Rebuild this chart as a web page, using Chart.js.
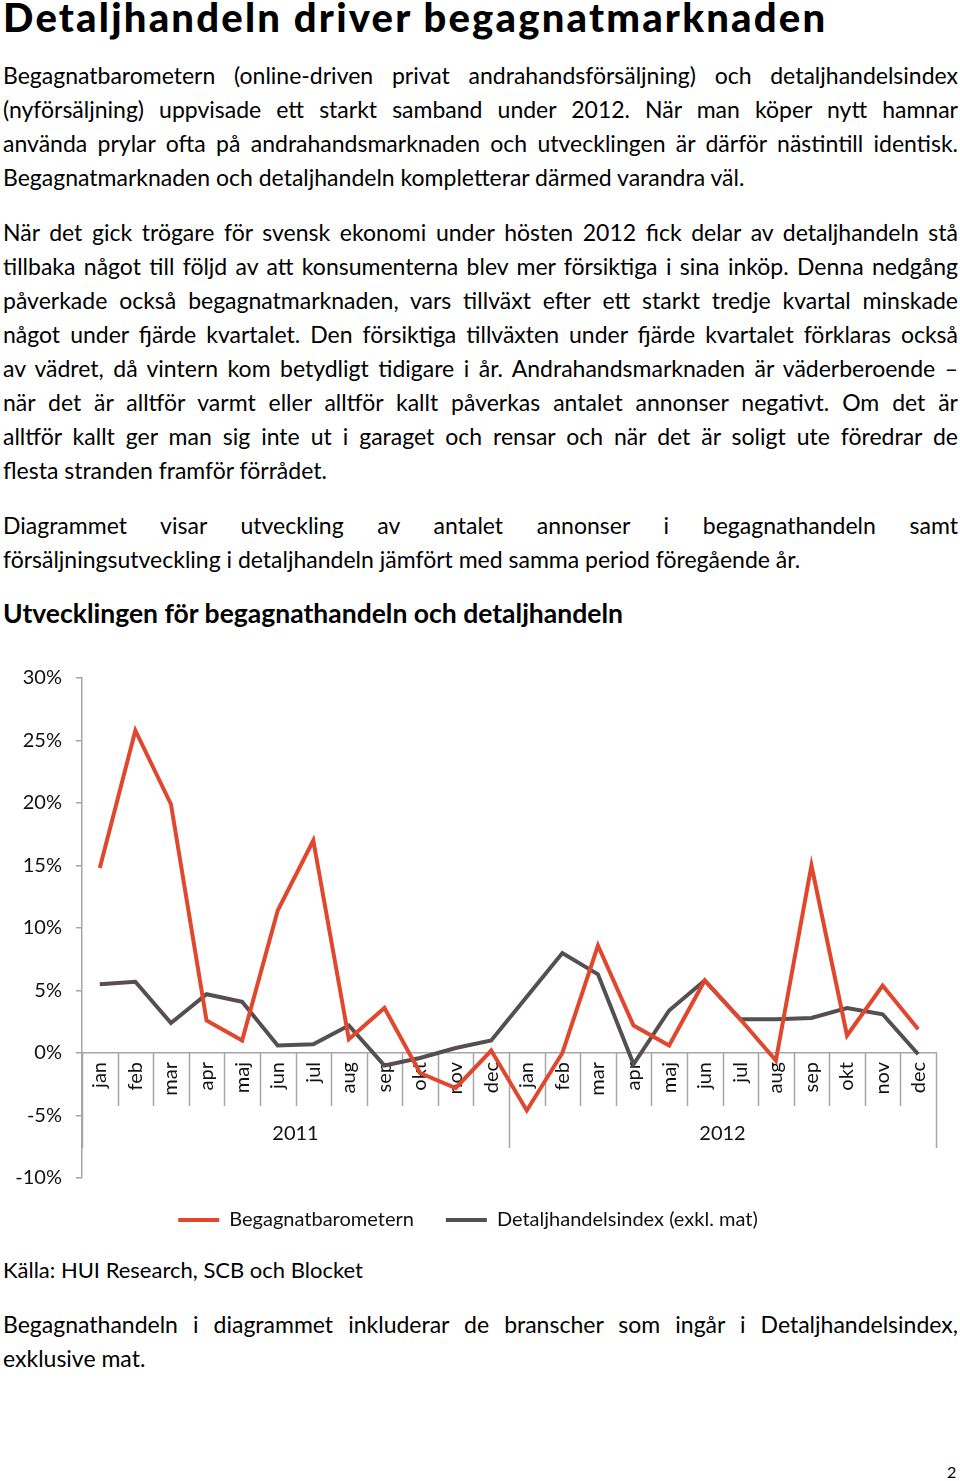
<!DOCTYPE html>
<html>
<head>
<meta charset="utf-8">
<script src="https://cdn.jsdelivr.net/npm/chart.js@4.4.1/dist/chart.umd.min.js"></script>
<style>
  body { margin: 0; background: #fff; font-family: Lato, "Open Sans", sans-serif; color: #000; }
  #page { position: relative; width: 960px; height: 1481px; overflow: hidden; }
  h1 { position: absolute; left: 3px; top: -3px; margin: 0; font-size: 40px; line-height: 40px; font-weight: 900; letter-spacing: 2.2px; white-space: nowrap; }
  .p { position: absolute; left: 3px; width: 955px; font-size: 23px; line-height: 34px; }
  .p div { text-align: justify; text-align-last: justify; }
  .p div.last { text-align-last: left; }
  h2 { position: absolute; left: 3px; top: 596px; margin: 0; font-size: 26.5px; line-height: 34px; font-weight: 700; white-space: nowrap; }
  #chartBox { position: absolute; left: 0; top: 652px; width: 960px; height: 590px; }
  #source { position: absolute; left: 3px; top: 1253px; font-size: 22px; line-height: 34px; }
  #pageNo { position: absolute; left: 947px; top: 1462px; font-size: 16px; line-height: 20px; }
</style>
</head>
<body>
<div id="page">
  <h1>Detaljhandeln driver begagnatmarknaden</h1>

  <div class="p" style="top:58px">
    <div>Begagnatbarometern (online-driven privat andrahandsförsäljning) och detaljhandelsindex</div>
    <div>(nyförsäljning) uppvisade ett starkt samband under 2012. När man köper nytt hamnar</div>
    <div>använda prylar ofta på andrahandsmarknaden och utvecklingen är därför nästintill identisk.</div>
    <div class="last">Begagnatmarknaden och detaljhandeln kompletterar därmed varandra väl.</div>
  </div>

  <div class="p" style="top:215px">
    <div>När det gick trögare för svensk ekonomi under hösten 2012 fick delar av detaljhandeln stå</div>
    <div>tillbaka något till följd av att konsumenterna blev mer försiktiga i sina inköp. Denna nedgång</div>
    <div>påverkade också begagnatmarknaden, vars tillväxt efter ett starkt tredje kvartal minskade</div>
    <div>något under fjärde kvartalet. Den försiktiga tillväxten under fjärde kvartalet förklaras också</div>
    <div>av vädret, då vintern kom betydligt tidigare i år. Andrahandsmarknaden är väderberoende –</div>
    <div>när det är alltför varmt eller alltför kallt påverkas antalet annonser negativt. Om det är</div>
    <div>alltför kallt ger man sig inte ut i garaget och rensar och när det är soligt ute föredrar de</div>
    <div class="last">flesta stranden framför förrådet.</div>
  </div>

  <div class="p" style="top:508px">
    <div>Diagrammet visar utveckling av antalet annonser i begagnathandeln samt</div>
    <div class="last">försäljningsutveckling i detaljhandeln jämfört med samma period föregående år.</div>
  </div>

  <h2>Utvecklingen för begagnathandeln och detaljhandeln</h2>

  <div id="chartBox"><canvas id="myChart"></canvas></div>

  <div id="source">Källa: HUI Research, SCB och Blocket</div>

  <div class="p" style="top:1307px">
    <div>Begagnathandeln i diagrammet inkluderar de branscher som ingår i Detaljhandelsindex,</div>
    <div class="last">exklusive mat.</div>
  </div>

  <div id="pageNo">2</div>
</div>

<script>
// data
const monthLabels = ['jan', 'feb', 'mar', 'apr', 'maj', 'jun', 'jul', 'aug', 'sep', 'okt', 'nov', 'dec',
                     'jan', 'feb', 'mar', 'apr', 'maj', 'jun', 'jul', 'aug', 'sep', 'okt', 'nov', 'dec'];
const yearLabels = ['2011', '2012'];
const begagnatbarometern = [14.8, 25.8, 19.9, 2.6, 1.0, 11.4, 17.0, 1.1, 3.6, -1.6, -2.8, 0.2,
                            -4.6, 0.0, 8.6, 2.2, 0.6, 5.8, 2.7, -0.6, 15.0, 1.4, 5.4, 1.9];
const detaljhandelsindex = [5.5, 5.7, 2.4, 4.7, 4.1, 0.6, 0.7, 2.2, -1.0, -0.4, 0.4, 1.0,
                            4.5, 8.0, 6.3, -0.9, 3.4, 5.8, 2.7, 2.7, 2.8, 3.6, 3.1, -0.1];
const yMin = -10, yMax = 30, yStep = 5;

const axisGrey = '#a6a6a6';
const redColor = '#e0472c';
const greyColor = '#574e50';

Chart.defaults.font.family = 'Lato, "Open Sans", sans-serif';
Chart.defaults.color = '#111';

// separators under the month labels, longer ones between the years, plus year labels
const yearDividers = {
  id: 'yearDividers',
  beforeDatasetsDraw(chart) {
    const x = chart.scales.x;
    const y = chart.scales.y;
    const ctx = chart.ctx;
    const y0 = y.getPixelForValue(0);
    const perYear = monthLabels.length / yearLabels.length;
    const edge = i => {
      if (i === 0) return x.left;
      if (i === monthLabels.length) return x.right;
      return (x.getPixelForValue(i - 1) + x.getPixelForValue(i)) / 2;
    };
    ctx.save();
    ctx.strokeStyle = axisGrey;
    ctx.lineWidth = 1.5;
    for (let i = 0; i <= monthLabels.length; i++) {
      const px = Math.round(edge(i)) + 0.5;
      const len = i % perYear === 0 ? 95 : 53;
      ctx.beginPath();
      ctx.moveTo(px, y0);
      ctx.lineTo(px, y0 + len);
      ctx.stroke();
    }
    ctx.fillStyle = '#111';
    ctx.font = '20px Lato, "Open Sans", sans-serif';
    ctx.textAlign = 'center';
    ctx.textBaseline = 'middle';
    yearLabels.forEach((lbl, k) => {
      const cx = (edge(k * perYear) + edge((k + 1) * perYear)) / 2;
      ctx.fillText(lbl, cx, y0 + 81);
    });
    ctx.restore();
  }
};

const ctx = document.getElementById('myChart').getContext('2d');
const chart = new Chart(ctx, {
  type: 'line',
  data: {
    labels: monthLabels,
    datasets: [
      {
        label: 'Begagnatbarometern',
        data: begagnatbarometern,
        borderColor: redColor,
        backgroundColor: redColor,
        borderWidth: 4,
        pointRadius: 0,
        tension: 0
      },
      {
        label: 'Detaljhandelsindex (exkl. mat)',
        data: detaljhandelsindex,
        borderColor: greyColor,
        backgroundColor: greyColor,
        borderWidth: 4,
        pointRadius: 0,
        tension: 0
      }
    ]
  },
  options: {
    responsive: true,
    maintainAspectRatio: false,
    animation: false,
    layout: { padding: { top: 9, right: 24, left: 0, bottom: 2 } },
    plugins: {
      tooltip: { enabled: false },
      legend: {
        position: 'bottom',
        labels: {
          boxWidth: 41,
          boxHeight: 4,
          padding: 32,
          font: { size: 20 },
          color: '#111',
          generateLabels(c) {
            return Chart.defaults.plugins.legend.labels.generateLabels(c)
              .map(item => ({ ...item, lineWidth: 0, fillStyle: item.strokeStyle }));
          }
        }
      }
    },
    scales: {
      x: {
        position: { y: 0 },
        offset: true,
        grid: { display: true, drawOnChartArea: false, drawTicks: false },
        border: { color: axisGrey, width: 1.5 },
        ticks: { autoSkip: false, minRotation: 90, maxRotation: 90, padding: 9, font: { size: 20 }, color: '#111' }
      },
      y: {
        min: yMin,
        max: yMax,
        ticks: { stepSize: yStep, padding: 14, font: { size: 20 }, color: '#111', callback: v => v + '%' },
        grid: { drawOnChartArea: false, tickLength: 6, color: axisGrey, lineWidth: 1.5 },
        border: { color: axisGrey, width: 1.5 },
        afterFit(scale) { scale.width = 82; }
      }
    }
  },
  plugins: [yearDividers]
});
</script>
</body>
</html>
